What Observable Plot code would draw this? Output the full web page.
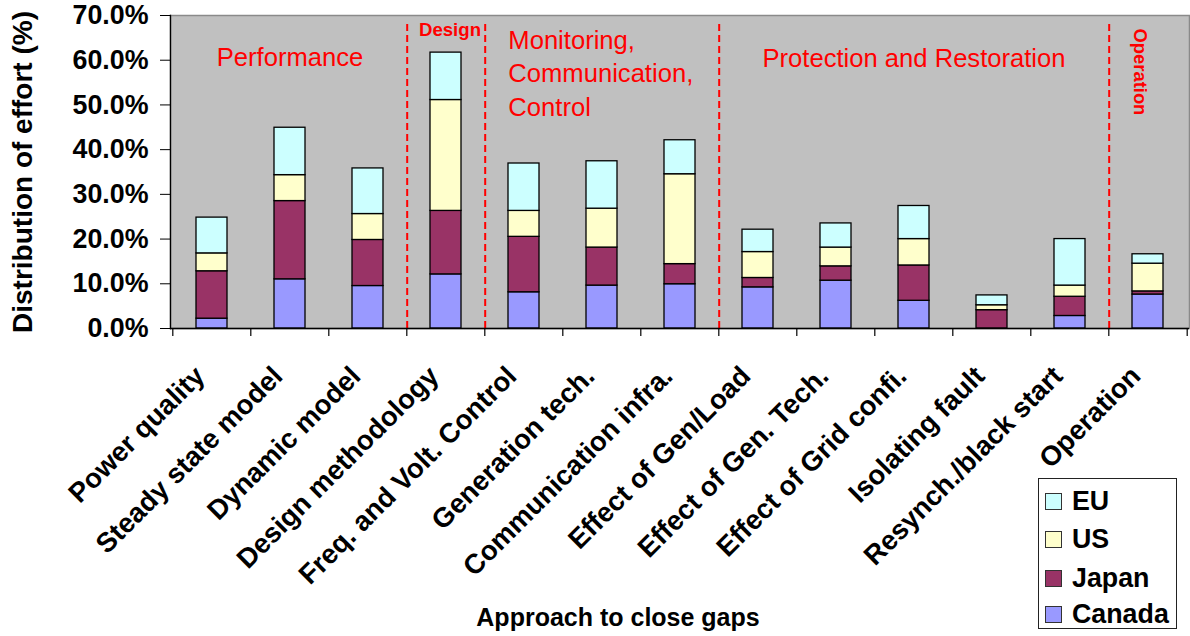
<!DOCTYPE html>
<html><head><meta charset="utf-8">
<script src="https://cdn.jsdelivr.net/npm/d3@7"></script>
<script src="https://cdn.jsdelivr.net/npm/@observablehq/plot@0.6"></script>
<style>
body{margin:0;background:#fff;font-family:"Liberation Sans",Arial,Helvetica,sans-serif;}
#wrap{position:relative;width:1190px;height:636px;overflow:hidden;}
#legend{position:absolute;left:1038px;top:478px;width:139px;height:151px;border:1px solid #222;background:#fff;box-sizing:border-box;}
.item{position:absolute;left:6px;height:20px;display:flex;align-items:center;font-weight:bold;font-size:26.8px;color:#000;}
.sw{width:17px;height:17px;border:1px solid #333;box-sizing:border-box;margin-right:10px;flex:none;}
</style></head>
<body><div id="wrap"><div id="chart"></div><div id="legend"></div></div>
<script>
const categories = ["Power quality","Steady state model","Dynamic model","Design methodology","Freq. and Volt. Control","Generation tech.","Communication infra.","Effect of Gen/Load","Effect of Gen. Tech.","Effect of Grid confi.","Isolating fault","Resynch./black start","Operation"];
const countries = ["EU","US","Japan","Canada"];
const colors = ["#ccffff","#ffffcc","#993366","#9999ff"];
const canada = [2.2, 11.0, 9.5, 12.1, 8.1, 9.6, 9.9, 9.2, 10.7, 6.2, 0.0, 2.8, 7.6];
const japan  = [10.6, 17.5, 10.3, 14.2, 12.4, 8.5, 4.5, 2.1, 3.2, 7.9, 4.1, 4.3, 0.7];
const us     = [4.0, 5.8, 5.8, 24.8, 5.8, 8.7, 20.1, 5.8, 4.2, 5.9, 1.1, 2.5, 6.2];
const eu     = [8.0, 10.6, 10.2, 10.6, 10.6, 10.6, 7.6, 5.0, 5.4, 7.4, 2.2, 10.4, 2.1];
const yTicks = [0, 10, 20, 30, 40, 50, 60, 70];
const yTitle = "Distribution of effort (%)";
const xTitle = "Approach to close gaps";
const dividersAfter = ["Dynamic model","Design methodology","Communication infra.","Resynch./black start"];

const W = 1190, H = 636, ML = 170, MR = 1, MT = 15, MB = 308;
const PI = 0.6, PO = 0.3;
const step = (W - ML - MR) / categories.length;
const barW = step * (1 - PI);
const font = '"Liberation Sans", Arial, Helvetica, sans-serif';

const series = {Canada: canada, Japan: japan, US: us, EU: eu};
const stackOrder = ["Canada","Japan","US","EU"];
const rows = categories.flatMap((c, i) => stackOrder.map(k => ({category: c, country: k, value: series[k][i]})));

const chart = Plot.plot({
  width: W, height: H,
  marginLeft: ML, marginRight: MR, marginTop: MT, marginBottom: MB,
  style: {fontFamily: font, background: "#fff", color: "#000", overflow: "visible"},
  x: {domain: categories, paddingInner: PI, paddingOuter: PO, axis: null},
  y: {domain: [0, 70], axis: null},
  color: {domain: countries, range: colors},
  marks: [
    Plot.frame({fill: "#c0c0c0", stroke: "#8a8a8a", strokeWidth: 1.5}),
    Plot.ruleX(dividersAfter, {x: d => d, dx: step / 2, stroke: "#ff0000", strokeWidth: 2, strokeDasharray: "7,4", insetTop: 9}),
    Plot.barY(rows, Plot.stackY({x: "category", y: "value", fill: "country", order: stackOrder, stroke: "#000", strokeWidth: 1.3})),
    Plot.ruleY([0], {stroke: "#000", strokeWidth: 1.3}),
    Plot.frame({anchor: "left", stroke: "#000", strokeWidth: 1.3}),
    Plot.ruleX(categories, {x: d => d, dx: -step / 2, y1: 0, y2: 0, insetBottom: -8, stroke: "#000", strokeWidth: 1.2}),
    Plot.ruleX(categories.slice(-1), {x: d => d, dx: step / 2, y1: 0, y2: 0, insetBottom: -8, stroke: "#000", strokeWidth: 1.2}),
    Plot.axisY({anchor: "left", ticks: yTicks, tickSize: 10, tickPadding: 12, tickFormat: d => d.toFixed(1) + "%", fontSize: 26.8, fontWeight: "bold", label: null}),
    Plot.axisX({anchor: "bottom", tickSize: 0, tickPadding: 43, tickRotate: -45, dx: -12, fontSize: 27.5, fontWeight: "bold", label: null, textAnchor: "end", lineAnchor: "middle"}),
    Plot.text([yTitle], {text: d => d, frameAnchor: "left", rotate: -90, dx: -147, fontSize: 28, fontWeight: "bold", lineAnchor: "middle", textAnchor: "middle"}),
    Plot.text([xTitle], {text: d => d, frameAnchor: "bottom", dx: -62, dy: 289, fontSize: 25, fontWeight: "bold", lineAnchor: "middle"}),
    Plot.text([{c: "Steady state model", t: "Performance"}], {x: "c", text: "t", frameAnchor: "top", dy: 32.7, fontSize: 25.6, fill: "#ff0000", lineAnchor: "top"}),
    Plot.text([{c: "Design methodology", t: "Design"}], {x: "c", text: "t", frameAnchor: "top", dx: 4, dy: 7.7, fontSize: 18.6, fontWeight: "bold", fill: "#ff0000", lineAnchor: "top"}),
    Plot.text([{c: "Freq. and Volt. Control", t: "Monitoring,\nCommunication,\nControl"}], {x: "c", text: "t", frameAnchor: "top", dx: -barW / 2, dy: 10, fontSize: 25.6, lineHeight: 1.3, textAnchor: "start", fill: "#ff0000", lineAnchor: "top"}),
    Plot.text([{c: "Effect of Grid confi.", t: "Protection and Restoration"}], {x: "c", text: "t", frameAnchor: "top", dy: 33.3, fontSize: 25.6, fill: "#ff0000", lineAnchor: "top"}),
    Plot.text([{c: "Operation", t: "Operation"}], {x: "c", text: "t", frameAnchor: "top", dx: -8.5, dy: 13, rotate: 90, fontSize: 18.4, fontWeight: "bold", fill: "#ff0000", textAnchor: "start", lineAnchor: "middle"})
  ]
});
document.getElementById("chart").appendChild(chart);

const legend = document.getElementById("legend");
const legendTops = [12, 50, 89, 125];
countries.forEach((k, i) => {
  const item = document.createElement("div");
  item.className = "item";
  item.style.top = legendTops[i] + "px";
  const sw = document.createElement("span");
  sw.className = "sw";
  sw.style.background = colors[i];
  const lab = document.createElement("span");
  lab.textContent = k;
  item.appendChild(sw); item.appendChild(lab);
  legend.appendChild(item);
});
</script>
</body></html>
